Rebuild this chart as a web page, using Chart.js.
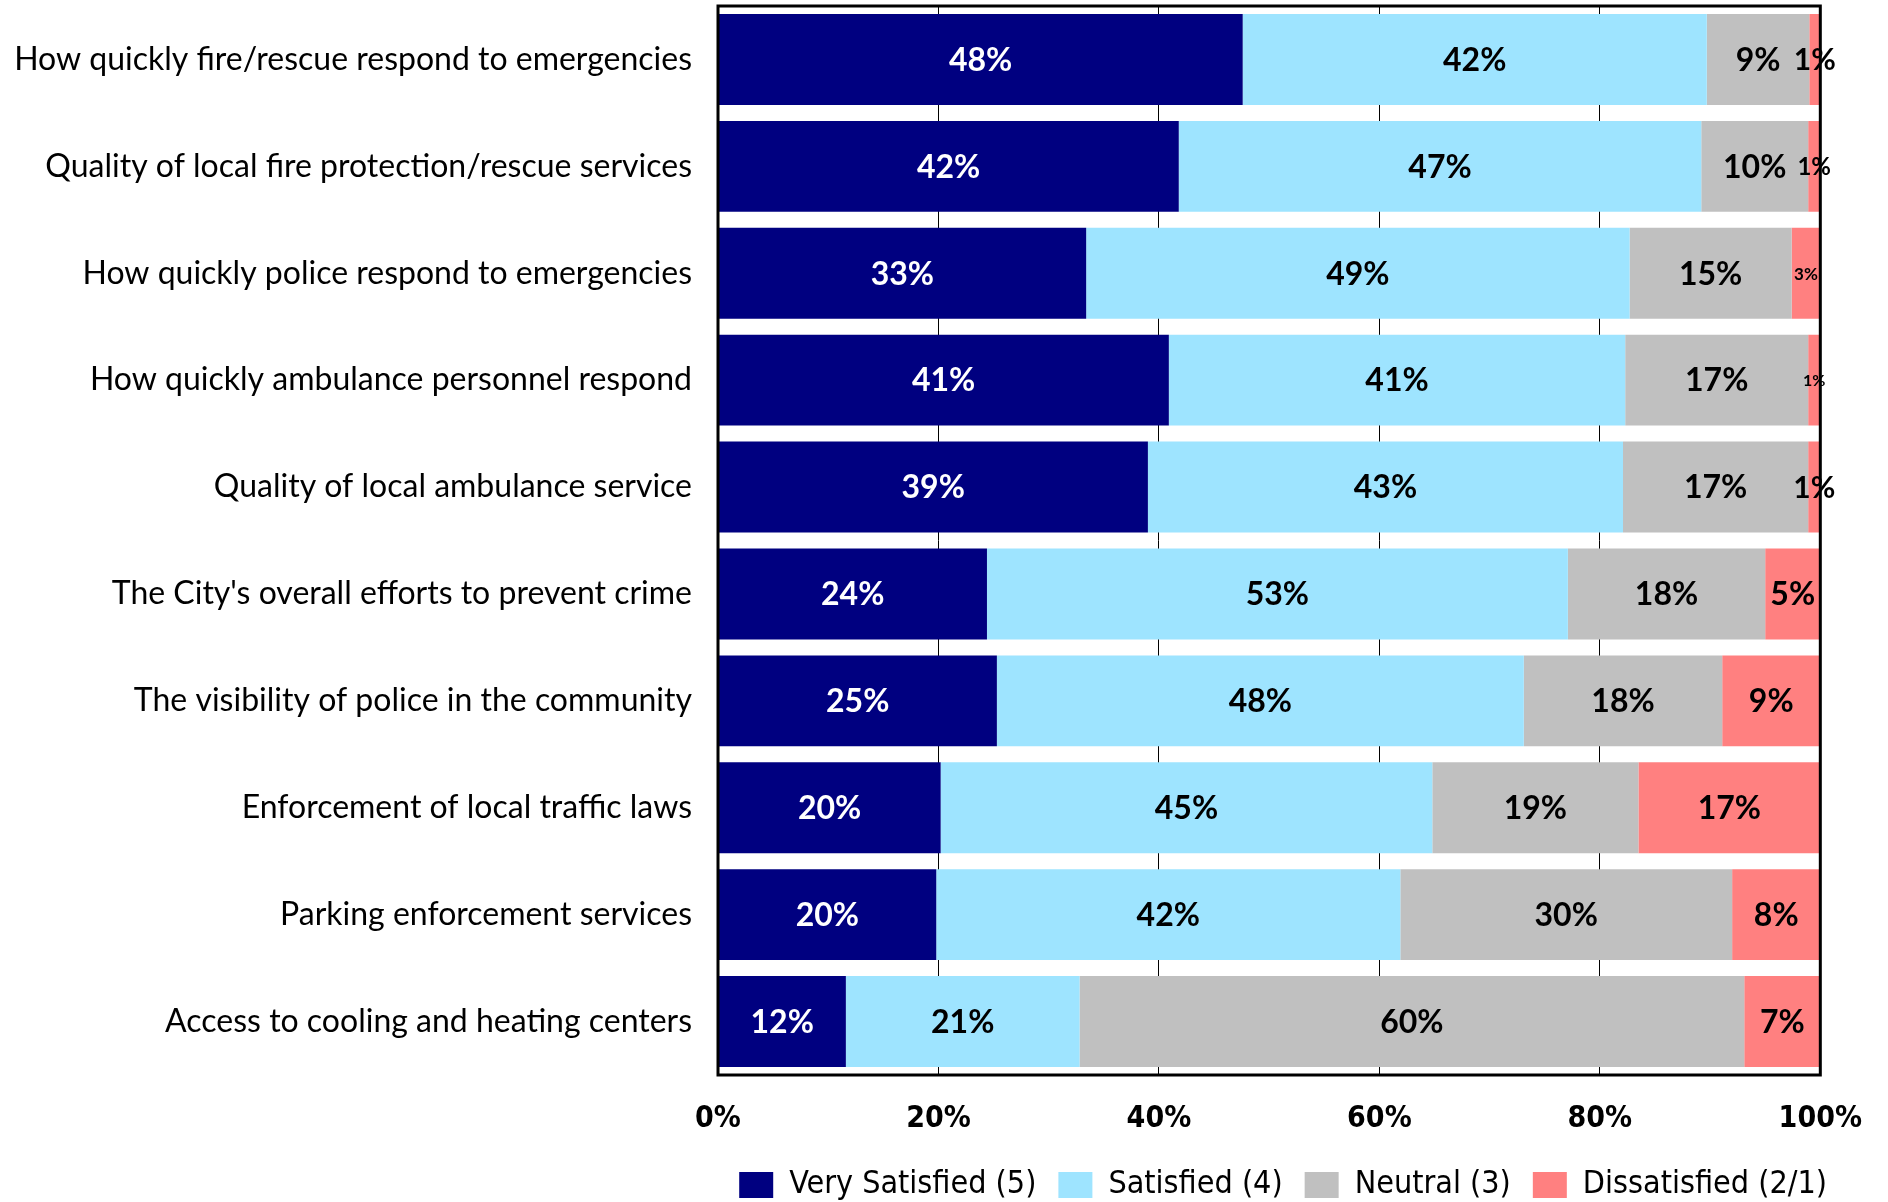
<!DOCTYPE html>
<html>
<head>
<meta charset="utf-8">
<script src="https://cdn.jsdelivr.net/npm/chart.js@4.4.0/dist/chart.umd.min.js"></script>
<style>
  html, body { margin: 0; padding: 0; background: #fff; }
  #wrap { width: 1888px; height: 1202px; }
</style>
</head>
<body>
<div id="wrap"><canvas id="chartSatisfaccion"></canvas></div>
<script>
"use strict";

const categorias = [
  "How quickly fire/rescue respond to emergencies",
  "Quality of local fire protection/rescue services",
  "How quickly police respond to emergencies",
  "How quickly ambulance personnel respond",
  "Quality of local ambulance service",
  "The City's overall efforts to prevent crime",
  "The visibility of police in the community",
  "Enforcement of local traffic laws",
  "Parking enforcement services",
  "Access to cooling and heating centers"
];

const muySatisfecho = [47.6, 41.8, 33.4, 40.9, 39.0, 24.4, 25.3, 20.2, 19.8, 11.6];
const satisfecho    = [42.1, 47.4, 49.3, 41.4, 43.1, 52.7, 47.8, 44.6, 42.1, 21.2];
const neutral       = [ 9.3,  9.7, 14.7, 16.6, 16.8, 17.9, 18.0, 18.7, 30.1, 60.3];
const insatisfecho  = [ 1.0,  1.1,  2.6,  1.1,  1.1,  5.0,  8.9, 16.5,  8.0,  6.9];

const ticksX = [0, 20, 40, 60, 80, 100];

const FUENTE = "Lato, 'Open Sans', sans-serif";
const FUENTE_ANGOSTA = "'Liberation Sans Narrow', 'DejaVu Sans Condensed', sans-serif";

// tamaños especiales para etiquetas pequeñas (serie -> índice -> px)
const etiquetasChicas = { 3: { 0: 30, 1: 24, 2: 17, 3: 16, 4: 30 } };

const etiquetasPlugin = {
  id: "etiquetas",
  afterLayout(chart) {
    // la leyenda va centrada bajo el área del gráfico, no del canvas
    chart.legend.left += 27;
    chart.legend.right += 27;
  },
  afterDatasetsDraw(chart) {
    const { ctx, chartArea: a } = chart;
    ctx.save();
    ctx.strokeStyle = "#000";
    ctx.lineWidth = 3;
    ctx.strokeRect(a.left, a.top, a.right - a.left, a.bottom - a.top);

    ctx.textAlign = "center";
    ctx.textBaseline = "middle";
    chart.data.datasets.forEach((ds, i) => {
      chart.getDatasetMeta(i).data.forEach((bar, j) => {
        const size = (etiquetasChicas[i] && etiquetasChicas[i][j]) || 32;
        ctx.font = `bold ${size}px ${FUENTE}`;
        ctx.fillStyle = i === 0 ? "#fff" : "#000";
        ctx.fillText(Math.round(ds.data[j]) + "%", (bar.x + bar.base) / 2, bar.y + 1);
      });
    });
    ctx.restore();
  }
};

const serie = (label, data, color) => ({
  label,
  data,
  backgroundColor: color,
  borderWidth: 0,
  barPercentage: 0.85,
  categoryPercentage: 1
});

new Chart(document.getElementById("chartSatisfaccion").getContext("2d"), {
  type: "bar",
  data: {
    labels: categorias,
    datasets: [
      serie("Very Satisfied (5)", muySatisfecho, "#000080"),
      serie("Satisfied (4)", satisfecho, "#9EE4FF"),
      serie("Neutral (3)", neutral, "#C0C0C0"),
      serie("Dissatisfied (2/1)", insatisfecho, "#FF8080")
    ]
  },
  options: {
    indexAxis: "y",
    responsive: true,
    maintainAspectRatio: false,
    animation: false,
    layout: { padding: { top: 6, right: 66, left: 0, bottom: -9 } },
    plugins: {
      tooltip: { enabled: false },
      legend: {
        position: "bottom",
        align: "end",
        labels: {
          boxWidth: 34,
          boxHeight: 26,
          padding: 22,
          color: "#000",
          font: { family: FUENTE_ANGOSTA, size: 32 }
        }
      }
    },
    scales: {
      x: {
        stacked: true,
        min: 0,
        max: 100,
        afterBuildTicks: (s) => { s.ticks = ticksX.map(v => ({ value: v })); },
        afterFit: (s) => { s.height = 72; },
        border: { display: false },
        grid: { color: "#000", lineWidth: 1, drawTicks: false },
        ticks: {
          padding: 26,
          color: "#000",
          font: { family: FUENTE_ANGOSTA, size: 30, weight: "bold" },
          callback: v => v + "%"
        }
      },
      y: {
        stacked: true,
        afterFit: (s) => {
          s.width = 718;
          s.paddingTop = 0;
          s.paddingBottom = 0;
        },
        border: { display: false },
        grid: { display: false, drawTicks: false },
        ticks: {
          padding: 26,
          color: "#000",
          font: { family: FUENTE, size: 32 }
        }
      }
    }
  },
  plugins: [etiquetasPlugin]
});
</script>
</body>
</html>
